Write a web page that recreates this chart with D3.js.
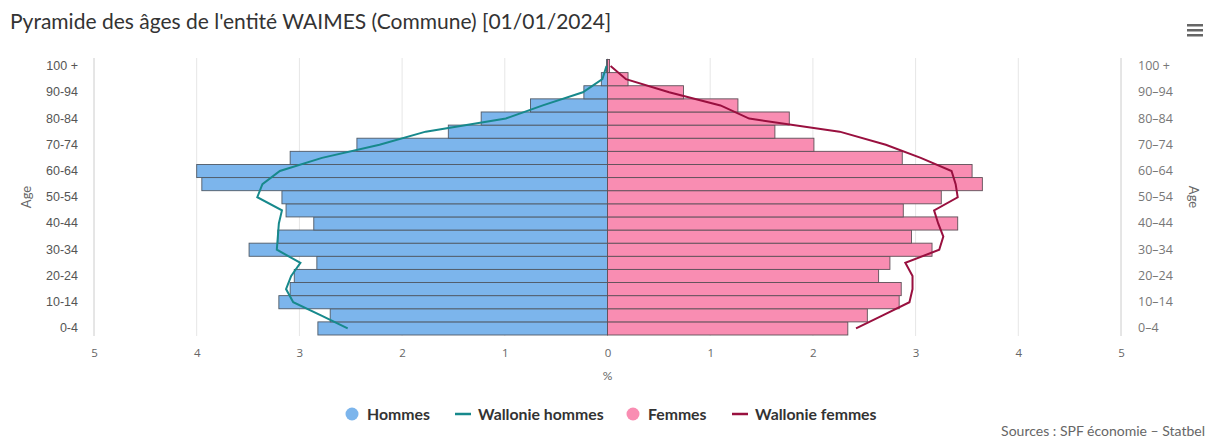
<!DOCTYPE html>
<html>
<head>
<meta charset="utf-8">
<script src="https://cdn.jsdelivr.net/npm/d3@7"></script>
<style>
  body { margin: 0; background: #fff; }
  svg { display: block; font-family: "Source Sans Pro", Lato, "Noto Sans", sans-serif; }
  .axis-left text { fill: #555; font-size: 12.5px; }
  .axis-right text { fill: #777; font-size: 12.5px; font-family: "Open Sans", sans-serif; }
  .axis-bottom text { fill: #666; font-size: 11.5px; font-family: "Open Sans", sans-serif; }
  .legend text { fill: #333; font-size: 15.8px; font-weight: bold; }
</style>
</head>
<body>
<svg id="chart" width="1210" height="439"></svg>
<script>
// Age groups, bottom to top
const ageGroups = ['0-4', '5-9', '10-14', '15-19', '20-24', '25-29', '30-34', '35-39', '40-44',
  '45-49', '50-54', '55-59', '60-64', '65-69', '70-74', '75-79', '80-84', '85-89', '90-94',
  '95-99', '100 +'];

// Percentages for the commune
const hommes = [2.82, 2.70, 3.20, 3.09, 3.05, 2.83, 3.49, 3.21, 2.86, 3.13, 3.17, 3.95, 4.00,
  3.09, 2.44, 1.55, 1.23, 0.75, 0.23, 0.06, 0.01];
const femmes = [2.34, 2.53, 2.84, 2.86, 2.64, 2.75, 3.16, 2.96, 3.41, 2.88, 3.25, 3.65, 3.55,
  2.87, 2.01, 1.63, 1.77, 1.27, 0.74, 0.20, 0.02];

// Percentages for Wallonia
const wallonieHommes = [2.53, 2.79, 3.06, 3.13, 3.08, 2.99, 3.22, 3.21, 3.20, 3.17, 3.41, 3.36,
  3.19, 2.78, 2.22, 1.77, 0.99, 0.63, 0.24, 0.05, 0.01];
const wallonieFemmes = [2.42, 2.68, 2.94, 2.97, 2.97, 2.90, 3.23, 3.27, 3.22, 3.18, 3.41, 3.39,
  3.35, 3.05, 2.71, 2.26, 1.38, 1.10, 0.60, 0.18, 0.03];

const xTicks = [-5, -4, -3, -2, -1, 0, 1, 2, 3, 4, 5];

const COLOR_H = '#7cb5ec';
const COLOR_F = '#f98db2';
const COLOR_WH = '#17898c';
const COLOR_WF = '#99103f';

const svg = d3.select('#chart');

// Title
svg.append('text')
  .attr('x', 10)
  .attr('y', 29)
  .attr('fill', '#333')
  .style('font-size', '21px')
  .text("Pyramide des âges de l'entité WAIMES (Commune) [01/01/2024]");

// Menu icon
[25, 30, 35].forEach(yy => {
  svg.append('rect')
    .attr('x', 1187).attr('y', yy - 1)
    .attr('width', 16).attr('height', 2.5)
    .attr('fill', '#666');
});

const x = d3.scaleLinear().domain([-5, 5]).range([94, 1121]);
const y = d3.scaleBand()
  .domain(ageGroups.slice().reverse())
  .range([59.5, 335])
  .padding(0);

const plotTop = 58, plotBottom = 336;

// Grid lines
svg.append('g')
  .selectAll('line')
  .data(xTicks.filter(t => Math.abs(t) < 5))
  .join('line')
  .attr('x1', d => x(d)).attr('x2', d => x(d))
  .attr('y1', plotTop).attr('y2', plotBottom)
  .attr('stroke', '#e6e6e6');

// Bars
const rows = ageGroups.map((a, i) => ({ age: a, h: hommes[i], f: femmes[i], wh: wallonieHommes[i], wf: wallonieFemmes[i] }));

svg.append('g')
  .selectAll('rect')
  .data(rows)
  .join('rect')
  .attr('x', d => x(-d.h))
  .attr('y', d => y(d.age))
  .attr('width', d => x(0) - x(-d.h))
  .attr('height', y.bandwidth())
  .attr('fill', COLOR_H)
  .attr('stroke', '#505a66')
  .attr('stroke-width', 0.9);

svg.append('g')
  .selectAll('rect')
  .data(rows)
  .join('rect')
  .attr('x', x(0))
  .attr('y', d => y(d.age))
  .attr('width', d => x(d.f) - x(0))
  .attr('height', y.bandwidth())
  .attr('fill', COLOR_F)
  .attr('stroke', '#5e5058')
  .attr('stroke-width', 0.9);

// Wallonia lines
const cy = d => y(d.age) + y.bandwidth() / 2;

svg.append('path')
  .datum(rows)
  .attr('fill', 'none')
  .attr('stroke', COLOR_WH)
  .attr('stroke-width', 2)
  .attr('d', d3.line().x(d => x(-d.wh)).y(cy));

svg.append('path')
  .datum(rows)
  .attr('fill', 'none')
  .attr('stroke', COLOR_WF)
  .attr('stroke-width', 2)
  .attr('d', d3.line().x(d => x(d.wf)).y(cy));

// Axes
const labelAges = ageGroups.filter((a, i) => i % 2 === 0);

const leftAxis = svg.append('g')
  .attr('class', 'axis-left')
  .attr('transform', `translate(${x(-5)},0)`)
  .call(d3.axisLeft(y).tickValues(labelAges).tickSize(0).tickPadding(16));
leftAxis.select('.domain').attr('stroke', '#ccc').attr('d', `M0,${plotTop}V${plotBottom}`);

const rightAxis = svg.append('g')
  .attr('class', 'axis-right')
  .attr('transform', `translate(${x(5)},0)`)
  .call(d3.axisRight(y).tickValues(labelAges).tickSize(0).tickPadding(17)
    .tickFormat(d => d.replace('-', '–')));
rightAxis.select('.domain').attr('stroke', '#ccc').attr('d', `M0,${plotTop}V${plotBottom}`);

const bottomAxis = svg.append('g')
  .attr('class', 'axis-bottom')
  .attr('transform', `translate(0,${plotBottom})`)
  .call(d3.axisBottom(x).tickValues(xTicks).tickSize(0).tickPadding(13)
    .tickFormat(d => Math.abs(d)));
bottomAxis.select('.domain').remove();

// Axis titles
svg.append('text')
  .attr('transform', 'translate(31,197) rotate(-90)')
  .attr('text-anchor', 'middle')
  .attr('fill', '#666')
  .style('font-size', '13px')
  .text('Age');

svg.append('text')
  .attr('transform', 'translate(1189,197) rotate(90)')
  .attr('text-anchor', 'middle')
  .attr('fill', '#666')
  .style('font-size', '13px')
  .text('Age');

svg.append('text')
  .attr('x', x(0))
  .attr('y', 380)
  .attr('text-anchor', 'middle')
  .attr('fill', '#666')
  .style('font-size', '12px')
  .text('%');

// Legend
const legendItems = [
  { name: 'Hommes', type: 'circle', color: COLOR_H, x: 352 },
  { name: 'Wallonie hommes', type: 'line', color: COLOR_WH, x: 463 },
  { name: 'Femmes', type: 'circle', color: COLOR_F, x: 633 },
  { name: 'Wallonie femmes', type: 'line', color: COLOR_WF, x: 740 }
];

const legend = svg.append('g').attr('class', 'legend');
legendItems.forEach(item => {
  const g = legend.append('g').attr('transform', `translate(${item.x},414)`);
  if (item.type === 'circle') {
    g.append('circle').attr('r', 6.5).attr('fill', item.color);
  } else {
    g.append('line').attr('x1', -8).attr('x2', 8)
      .attr('stroke', item.color).attr('stroke-width', 2.5);
  }
  g.append('text').attr('x', 15).attr('dy', '0.35em').text(item.name);
});

// Source
svg.append('text')
  .attr('x', 1205)
  .attr('y', 436)
  .attr('text-anchor', 'end')
  .attr('fill', '#666')
  .style('font-size', '14px')
  .text('Sources : SPF économie – Statbel');
</script>
</body>
</html>
